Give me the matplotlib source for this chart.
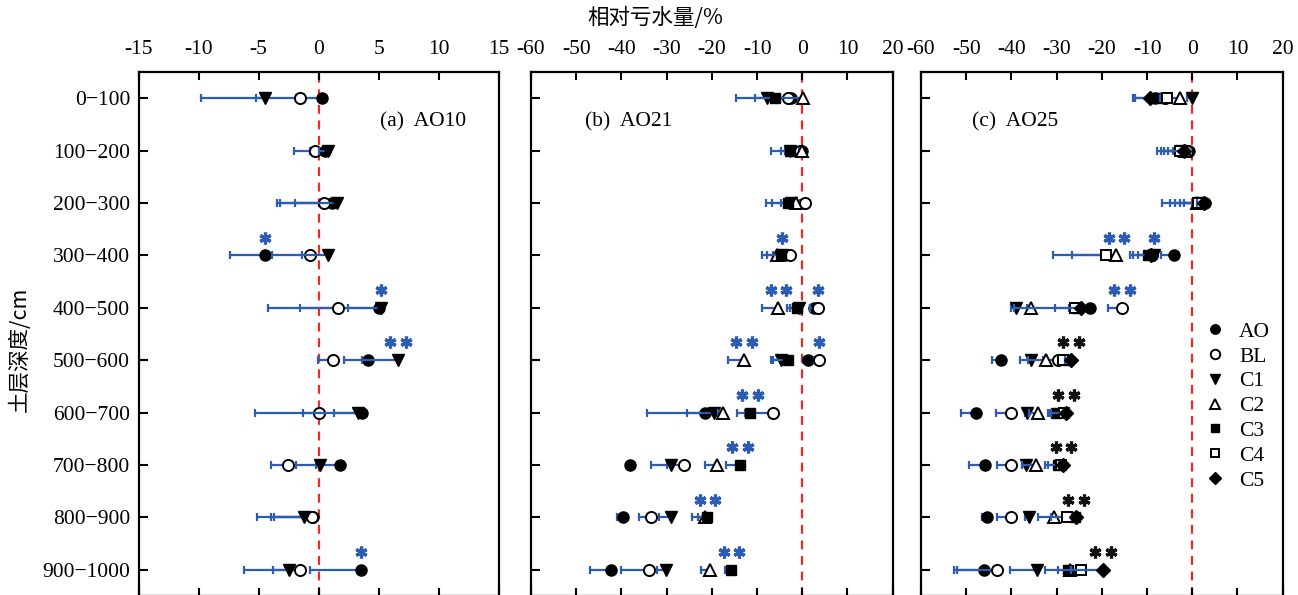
import numpy as np
import matplotlib
matplotlib.use("Agg")
import matplotlib.pyplot as plt
from matplotlib.lines import Line2D
from matplotlib.markers import MarkerStyle
from matplotlib.transforms import ScaledTranslation

plt.rcParams['font.family'] = ['Liberation Serif', 'Noto Sans CJK SC', 'DejaVu Sans']
plt.rcParams['axes.unicode_minus'] = False

# ---- data -------------------------------------------------------------
depths = ["0−100", "100−200", "200−300", "300−400", "400−500",
          "500−600", "600−700", "700−800", "800−900", "900−1000"]

# AO10: relative water deficit (%) and lower error
ao10_AO = [0.3, 0.5, 1.1, -4.5, 5.0, 4.1, 3.6, 1.75, -0.5, 3.5]
ao10_BL = [-1.6, -0.3, 0.4, -0.75, 1.6, 1.2, 0.0, -2.6, -0.6, -1.6]
ao10_C1 = [-4.5, 0.8, 1.5, 0.8, 5.2, 6.6, 3.3, 0.1, -1.2, -2.5]
ao10_AO_err = [2.2, 1.2, 3.1, 2.9, 6.6, 2.0, 2.3, 1.95, 3.25, 4.2]
ao10_BL_err = [3.6, 1.8, 3.9, 3.15, 5.8, 1.3, 5.3, 1.4, 4.5, 4.6]
ao10_C1_err = [5.3, 0.8, 4.7, 2.2, 2.8, 3.0, 4.6, 2.0, 2.8, 1.3]

# AO21
ao21_AO = [-2.4, -0.1, -2.0, -3.8, 2.5, 1.3, -21.6, -38.1, -39.6, -42.2]
ao21_BL = [-3.1, -0.5, 0.6, -2.7, 3.4, 3.7, -6.4, -26.2, -33.5, -33.8]
ao21_C1 = [-7.9, -2.7, -2.4, -4.5, -0.8, -4.7, -19.6, -29.0, -29.0, -30.1]
ao21_C2 = [0.2, 0.0, -1.3, -5.7, -5.3, -12.9, -17.6, -18.8, -21.5, -20.3]
ao21_C3 = [-6.1, -2.7, -3.1, -4.6, -1.25, -3.1, -11.6, -13.8, -21.0, -15.7]
ao21_AO_err = [3.3, 3.0, 2.6, 1.0, 0.8, 1.1, 12.8, 0.5, 1.4, 4.8]
ao21_BL_err = [3.3, 3.4, 1.0, 1.0, 1.7, 1.0, 6.3, 7.3, 2.7, 6.3]
ao21_C1_err = [6.7, 4.3, 4.4, 1.9, 2.0, 2.3, 6.0, 1.0, 2.6, 2.0]
ao21_C2_err = [5.2, 0.8, 1.0, 3.1, 3.6, 3.5, 1.0, 2.8, 1.5, 2.1]
ao21_C3_err = [4.4, 1.9, 5.0, 3.1, 2.2, 3.3, 2.8, 3.0, 3.4, 1.5]

# AO25
ao25_AO = [-8.3, -0.8, 2.8, -4.0, -22.7, -42.2, -47.8, -45.8, -45.3, -46.1]
ao25_BL = [-6.0, -1.2, 2.0, -9.0, -15.5, -29.6, -40.0, -40.1, -40.0, -43.3]
ao25_C1 = [-0.1, -2.5, 1.5, -8.5, -39.0, -35.7, -36.6, -36.8, -36.1, -34.4]
ao25_C2 = [-2.7, -1.5, 1.0, -16.8, -35.7, -32.4, -34.2, -34.6, -30.5, -27.0]
ao25_C3 = [-6.7, -2.2, 2.2, -9.8, -25.6, -27.6, -30.1, -29.8, -26.0, -27.4]
ao25_C4 = [-5.7, -2.8, 1.2, -19.0, -26.0, -28.5, -28.3, -29.0, -27.6, -24.7]
ao25_C5 = [-9.4, -1.8, 2.5, -9.2, -24.6, -26.8, -27.9, -28.5, -25.7, -19.8]
ao25_AO_err = [4.3, 1.0, 1.0, 3.0, 0.6, 2.2, 3.4, 3.6, 1.1, 6.5]
ao25_BL_err = [0.5, 3.0, 3.8, 1.0, 3.2, 3.5, 3.5, 3.0, 3.1, 8.7]
ao25_C1_err = [1.0, 4.5, 8.2, 3.5, 1.0, 2.4, 0.5, 0.8, 0.8, 5.9]
ao25_C2_err = [2.6, 1.0, 4.8, 9.9, 0.8, 4.0, 1.9, 3.0, 3.7, 1.0]
ao25_C3_err = [3.1, 4.0, 4.9, 4.0, 13.9, 1.4, 1.5, 2.7, 1.0, 5.1]
ao25_C4_err = [1.5, 5.1, 6.2, 11.7, 1.2, 1.0, 3.7, 2.8, 3.6, 4.9]
ao25_C5_err = [3.7, 3.5, 1.5, 3.9, 5.8, 1.4, 3.3, 1.0, 1.0, 7.0]

# significance marks: (depth index, series, number of stars, group)
ao10_sig = [(3, "AO", 1, "a"), (4, "C1", 1, "a"), (5, "C1", 2, "a"), (9, "AO", 1, "a")]
ao21_sig = [(3, "C1", 1, "a"), (4, "C2", 2, "a"), (4, "BL", 1, "a"),
            (5, "C2", 2, "a"), (5, "BL", 1, "a"), (6, "C3", 2, "a"),
            (7, "C3", 2, "a"), (8, "C3", 2, "a"), (9, "C3", 2, "a")]
ao25_sig = [(3, "C2", 2, "a"), (3, "C1", 1, "a"), (4, "BL", 2, "a"),
            (5, "C5", 2, "b"), (6, "C5", 2, "b"), (7, "C5", 2, "b"),
            (8, "C5", 2, "b"), (9, "C5", 2, "b")]

# ---- styles -------------------------------------------------------------
BLUE = "#2d5db3"
sig_colors = {"a": BLUE, "b": "#111111"}
marker_styles = {
    "AO": dict(marker="o", mfc="black", mec="black", ms=8),
    "BL": dict(marker="o", mfc="white", mec="black", ms=8, mew=1.4),
    "C1": dict(marker="v", mfc="black", mec="black", ms=9),
    "C2": dict(marker="^", mfc="white", mec="black", ms=8.5, mew=1.4),
    "C3": dict(marker="s", mfc="black", mec="black", ms=7.5),
    "C4": dict(marker="s", mfc="white", mec="black", ms=7, mew=1.4),
    "C5": dict(marker="D", mfc="black", mec="black", ms=7.5),
}

panels = [
    dict(title="(a)  AO10", xlim=(-15, 15), ticks=range(-15, 16, 5),
         series={"AO": (ao10_AO, ao10_AO_err), "BL": (ao10_BL, ao10_BL_err),
                 "C1": (ao10_C1, ao10_C1_err)},
         sig=ao10_sig, left=138.5, right=499, title_x=0.67),
    dict(title="(b)  AO21", xlim=(-60, 20), ticks=range(-60, 21, 10),
         series={"AO": (ao21_AO, ao21_AO_err), "BL": (ao21_BL, ao21_BL_err),
                 "C1": (ao21_C1, ao21_C1_err), "C2": (ao21_C2, ao21_C2_err),
                 "C3": (ao21_C3, ao21_C3_err)},
         sig=ao21_sig, left=531, right=892.7, title_x=0.15),
    dict(title="(c)  AO25", xlim=(-60, 20), ticks=range(-60, 21, 10),
         series={"AO": (ao25_AO, ao25_AO_err), "BL": (ao25_BL, ao25_BL_err),
                 "C1": (ao25_C1, ao25_C1_err), "C2": (ao25_C2, ao25_C2_err),
                 "C3": (ao25_C3, ao25_C3_err), "C4": (ao25_C4, ao25_C4_err),
                 "C5": (ao25_C5, ao25_C5_err)},
         sig=ao25_sig, left=921, right=1282.7, title_x=0.14),
]

W, H = 1298, 595
fig = plt.figure(figsize=(W / 100, H / 100), dpi=100)
top_px, bot_px = 72, 596
FS = 15.5
star = MarkerStyle((6, 2, 0), capstyle="round")

y = np.arange(len(depths))
axes = []
for i, p in enumerate(panels):
    ax = fig.add_axes([p["left"] / W, 1 - bot_px / H,
                       (p["right"] - p["left"]) / W, (bot_px - top_px) / H])
    axes.append(ax)
    ax.set_xlim(*p["xlim"])
    ax.set_ylim(len(depths) - 0.5, -0.5)
    ax.axvline(0, color="#f02828", lw=1.6, ls=(0, (4, 3)), zorder=1)

    z = 2
    for name, (vals, errs) in p["series"].items():
        vals = np.asarray(vals, float)
        errs = np.asarray(errs, float)
        ax.errorbar(vals, y, xerr=[errs, np.zeros_like(errs)], fmt="none",
                    ecolor=BLUE, elinewidth=1.6, capsize=3.2, capthick=1.6,
                    zorder=z)
        ax.plot(vals, y, ls="none", zorder=z + 0.5, **marker_styles[name])
        z += 1

    for row, name, n, grp in p["sig"]:
        xv = p["series"][name][0][row]
        offsets = [0.0] if n == 1 else [-5.6, 5.6]
        for dx in offsets:
            tr = ax.transData + ScaledTranslation(dx / 72, 0, fig.dpi_scale_trans)
            ax.plot([xv], [row - 0.34], ls="none", marker=star, ms=8.5,
                    mew=2.3, color=sig_colors[grp], transform=tr, zorder=20,
                    clip_on=False)

    ax.set_xticks(list(p["ticks"]))
    ax.set_yticks(y)
    ax.xaxis.tick_top()
    ax.tick_params(axis="x", which="both", top=True, bottom=True,
                   direction="in", length=6, width=1.5, labelsize=FS, pad=9)
    ax.tick_params(axis="y", left=True, right=False, direction="in",
                   length=6.5, width=1.5, labelsize=FS, pad=6)
    if i == 0:
        ax.set_yticklabels(depths)
    else:
        ax.set_yticklabels([])
    for s in ax.spines.values():
        s.set_linewidth(1.6)
    ax.text(p["title_x"], 0.905, p["title"], transform=ax.transAxes,
            fontsize=FS, va="center", ha="left")

# legend
handles = [Line2D([], [], ls="none", **{**marker_styles[k],
                                        "ms": marker_styles[k]["ms"] * 0.85})
           for k in ["AO", "BL", "C1", "C2", "C3", "C4", "C5"]]
axes[2].legend(handles, ["AO", "BL", "C1", "C2", "C3", "C4", "C5"],
               loc="upper left", bbox_to_anchor=(0.76, 0.54), frameon=False,
               fontsize=FS, handlelength=1.0, handletextpad=0.6,
               labelspacing=0.22, borderaxespad=0)

fig.text(655 / W, 1 - 18 / H, "相对亏水量/%", ha="center", va="center",
         fontsize=FS, family=["Noto Sans CJK SC", "DejaVu Sans"])
fig.text(20 / W, 1 - 349 / H, "土层深度/cm", ha="center", va="center",
         rotation=90, fontsize=FS, family=["Noto Sans CJK SC", "DejaVu Sans"])

fig.savefig("out.png", dpi=100)
